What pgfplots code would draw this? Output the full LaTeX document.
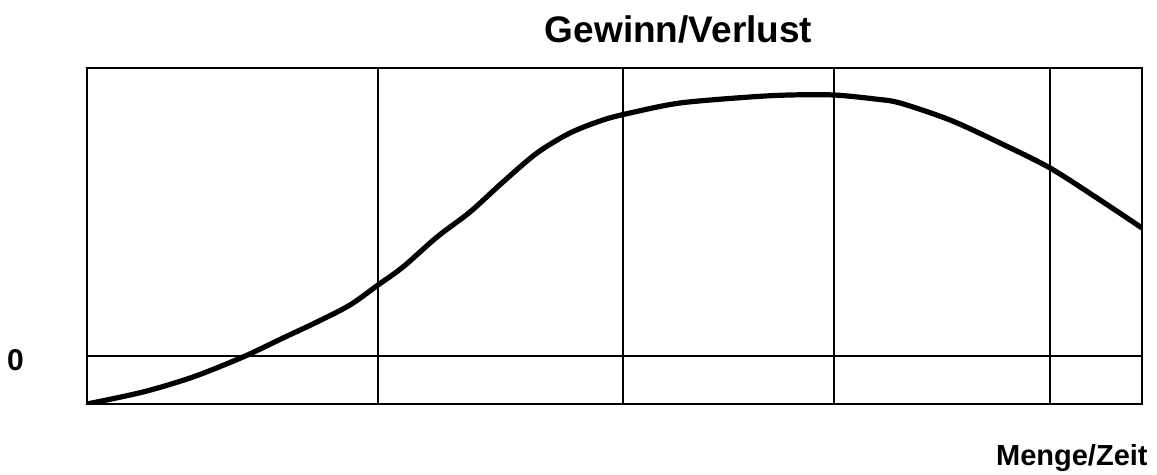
\documentclass[border=0pt]{standalone}
\usepackage{pgfplots}
\pgfplotsset{compat=1.18}
\usepackage{fontspec}
\setmainfont{Liberation Sans}
\begin{document}
\begin{tikzpicture}
\path[use as bounding box] (-43.5pt,-35.5pt) rectangle (535pt,202pt);
\begin{axis}[
  at={(0pt,0pt)}, anchor=south west,
  scale only axis, width=527.5pt, height=168pt,
  xmin=0, xmax=1055, ymin=-48, ymax=288,
  axis line style={line width=0.8pt},
  xtick={291,536,747,963}, xticklabels={},
  ytick={0}, yticklabels={\textbf{0}},
  major tick length=0pt,
  xmajorgrids, ymajorgrids,
  grid style={black, line width=0.7pt},
  yticklabel style={font=\fontsize{15}{18}\selectfont, xshift=-28pt, yshift=-2pt},
  title={Gewinn/Verlust},
  title style={font=\bfseries\fontsize{18.5}{22}\selectfont, at={(0.5,1)}, anchor=base, xshift=32pt, yshift=6.5pt},
  xlabel={Menge/Zeit},
  xlabel style={font=\bfseries\fontsize{14.5}{17}\selectfont, at={(1,0)}, anchor=base east, inner sep=0pt, xshift=3pt, yshift=-31pt},
]
\addplot[black, line width=2.6pt, smooth, tension=0.5] coordinates {
(0,-48) (56,-36) (106,-21) (156,-1) (196,18) (230,34) (263,51) (291,71)
(316,89) (350,119) (383,144) (416,174) (450,203) (483,223) (516,236)
(543,243) (593,253) (663,259) (703,261) (747,261) (788,257) (813,253)
(863,236) (913,213) (963,188) (1013,156) (1055,128)
};
\end{axis}
\end{tikzpicture}
\end{document}
